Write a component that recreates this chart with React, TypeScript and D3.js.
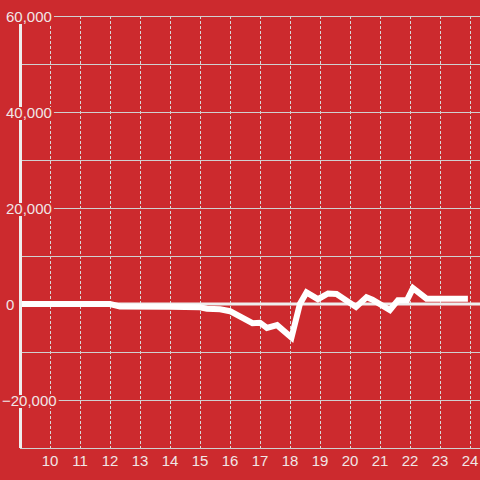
import React, { useEffect, useRef } from "react";
import * as d3 from "d3";

const hours = [9, 12.0, 12.33, 14.0, 15.0, 15.23, 15.67, 16.0, 16.75, 17.0, 17.23, 17.57, 18.05, 18.33, 18.55, 18.93, 19.27, 19.55, 20.2, 20.55, 20.75, 21.33, 21.6, 21.9, 22.1, 22.55, 23.93];
const values = [0, 0, -500, -550, -700, -1000, -1100, -1500, -4000, -3900, -5000, -4400, -7000, 0, 2400, 1000, 2200, 2100, -600, 1400, 900, -1250, 800, 800, 3300, 1100, 1100];
const xTicks = [10, 11, 12, 13, 14, 15, 16, 17, 18, 19, 20, 21, 22, 23, 24];
const yGrid = [-30000, -20000, -10000, 0, 10000, 20000, 30000, 40000, 50000, 60000];
const yLabels = [-20000, 0, 20000, 40000, 60000];

export default function App() {
  const ref = useRef<SVGSVGElement>(null);
  useEffect(() => {
    document.body.style.margin = "0";
    const svg = d3.select(ref.current);
    svg.selectAll("*").remove();
    const W = 480, H = 480;
    const x = d3.scaleLinear().domain([9, 24]).range([20, 470]);
    const y = d3.scaleLinear().domain([-30000, 60000]).range([448, 16]);
    const font = "'Liberation Sans', Arial, sans-serif";
    const fs = 15;

    svg.append("rect").attr("width", W).attr("height", H).attr("fill", "#cc2a2e");

    svg.append("g").selectAll("line").data(xTicks).join("line")
      .attr("x1", d => Math.round(x(d)) + 0.5).attr("x2", d => Math.round(x(d)) + 0.5)
      .attr("y1", 16).attr("y2", 448)
      .attr("stroke", "#d8d8d8").attr("stroke-width", 1).attr("stroke-dasharray", "3,2");

    svg.append("g").selectAll("line").data(yGrid.filter(v => v !== 0)).join("line")
      .attr("x1", 20).attr("x2", W)
      .attr("y1", d => Math.round(y(d)) + 0.5).attr("y2", d => Math.round(y(d)) + 0.5)
      .attr("stroke", "#d0d0d0").attr("stroke-width", 1);

    svg.append("line").attr("x1", 20).attr("x2", W).attr("y1", y(0)).attr("y2", y(0))
      .attr("stroke", "#eeeeee").attr("stroke-width", 3);

    const line = d3.line<number>().x((d, i) => x(hours[i])).y(d => y(d));
    svg.append("path").datum(values).attr("d", line).attr("fill", "none")
      .attr("stroke", "#ffffff").attr("stroke-width", 6).attr("stroke-linejoin", "miter");

    svg.append("line").attr("x1", 20.5).attr("x2", 20.5).attr("y1", 16).attr("y2", 448)
      .attr("stroke", "#eeeeee").attr("stroke-width", 3);

    const fmt = d3.format(",");
    yLabels.forEach(v => {
      const g = svg.append("g");
      const rect = g.append("rect").attr("fill", "#cc2a2e");
      const t = g.append("text")
        .attr("x", v < 0 ? 2 : 6).attr("y", y(v) + 6)
        .attr("font-family", font).attr("font-size", fs)
        .attr("fill", "#f0e6e6").text(fmt(v));
      const bb = (t.node() as SVGTextElement).getBBox();
      rect.attr("x", bb.x).attr("y", y(v) - 5).attr("width", bb.width + 2).attr("height", 13);
    });

    svg.append("g").selectAll("text").data(xTicks).join("text")
      .attr("x", d => x(d)).attr("y", 466)
      .attr("text-anchor", "middle")
      .attr("font-family", font).attr("font-size", fs)
      .attr("fill", "#f0e6e6").text(d => String(d));
  }, []);
  return <svg ref={ref} width={480} height={480} style={{ display: "block" }} />;
}
